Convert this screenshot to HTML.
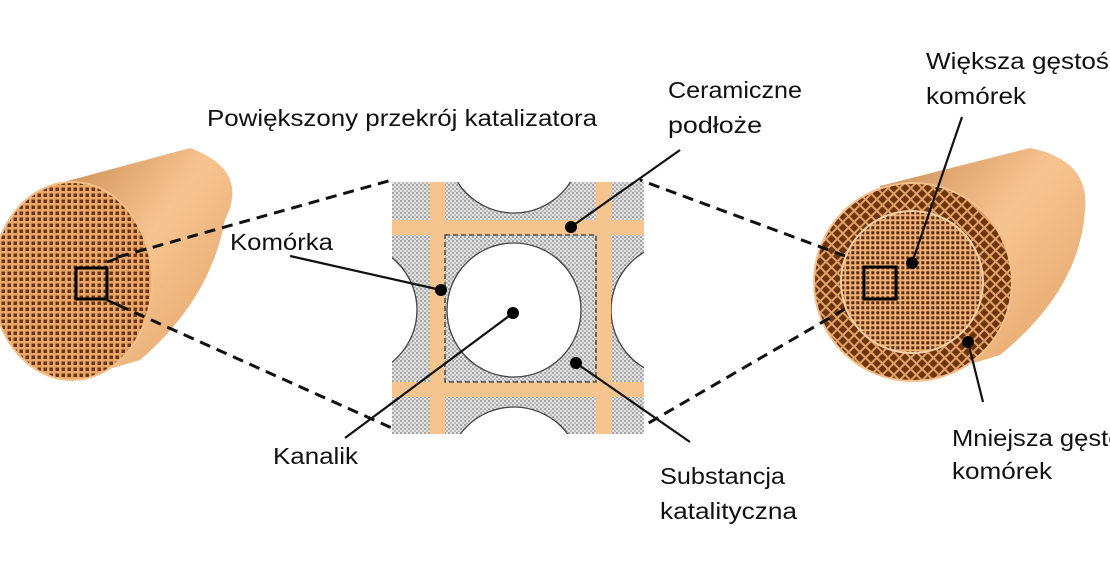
<!DOCTYPE html>
<html><head><meta charset="utf-8"><style>
html,body{margin:0;padding:0;background:#fff;width:1110px;height:577px;overflow:hidden}
svg text{font-family:"Liberation Sans","DejaVu Sans",sans-serif;font-size:23px;fill:#111}
</style></head><body>
<svg width="1110" height="577" viewBox="0 0 1110 577" xmlns="http://www.w3.org/2000/svg">
<defs>
<linearGradient id="body" x1="0" y1="0" x2="1" y2="1">
<stop offset="0" stop-color="#c98a52"/><stop offset="0.45" stop-color="#f7c491"/><stop offset="1" stop-color="#e0a064"/>
</linearGradient>
<pattern id="grid" width="6" height="6" patternUnits="userSpaceOnUse">
<rect width="6" height="6" fill="#e9a86a"/><rect x="1.5" y="1.5" width="3.5" height="3.5" fill="#6a3410"/>
</pattern>
<pattern id="grid2" width="5" height="5" patternUnits="userSpaceOnUse">
<rect width="5" height="5" fill="#f0b27a"/><rect x="1.3" y="1.3" width="3" height="3" fill="#5a2a0a"/>
</pattern>
<pattern id="diam" width="8" height="8" patternUnits="userSpaceOnUse" patternTransform="rotate(45)">
<rect width="8" height="8" fill="#e3a265"/><rect x="2" y="2" width="6" height="6" fill="#6b3510"/>
</pattern>
<pattern id="dots" width="4" height="4" patternUnits="userSpaceOnUse">
<rect width="4" height="4" fill="#e2e2e2"/><circle cx="1" cy="1" r="0.9" fill="#777"/><circle cx="3" cy="3" r="0.8" fill="#888"/>
</pattern>
</defs>

<path d="M60,183 L190,148 Q250,170 225,220 Q210,300 140,360 L72,380 Z" fill="url(#body)"/>
<ellipse cx="72" cy="281" rx="80" ry="99" fill="url(#grid)" stroke="#f3c08c" stroke-width="2"/>
<rect x="76" y="268" width="31" height="31" fill="none" stroke="#000" stroke-width="3"/>
<line x1="107" y1="262" x2="118" y2="258" stroke="#000" stroke-width="2.5"/>
<line x1="107" y1="300" x2="118" y2="305" stroke="#000" stroke-width="2.5"/>
<line x1="118" y1="257" x2="392" y2="180" stroke="#111" stroke-width="3" stroke-dasharray="11,7"/>
<line x1="118" y1="305" x2="392" y2="428" stroke="#111" stroke-width="3" stroke-dasharray="11,7"/>

<path d="M880,186 L1030,148 Q1090,160 1085,210 Q1080,290 1000,355 L915,381 Z" fill="url(#body)"/>
<ellipse cx="913" cy="282" rx="99" ry="99" fill="url(#diam)" stroke="#f3c08c" stroke-width="2"/>
<circle cx="912" cy="282" r="71" fill="url(#grid2)" stroke="#f6d0a4" stroke-width="2"/>
<rect x="864" y="267" width="32" height="32" fill="none" stroke="#000" stroke-width="3"/>
<line x1="845" y1="256" x2="640" y2="180" stroke="#111" stroke-width="3" stroke-dasharray="11,7"/>
<line x1="845" y1="309" x2="640" y2="428" stroke="#111" stroke-width="3" stroke-dasharray="11,7"/>

<g>
<clipPath id="cb"><rect x="392" y="182" width="252" height="252"/></clipPath>
<g clip-path="url(#cb)">
<rect x="392" y="182" width="252" height="252" fill="url(#dots)"/>
<g fill="#fff" stroke="#444" stroke-width="1.3">
<circle cx="514" cy="310" r="67"/>
<circle cx="514" cy="146" r="67"/>
<circle cx="514" cy="474" r="67"/>
<circle cx="350" cy="310" r="67"/>
<circle cx="678" cy="310" r="67"/>
</g>
<rect x="430" y="182" width="15" height="252" fill="#f6c48f"/>
<rect x="596" y="182" width="15" height="252" fill="#f6c48f"/>
<rect x="392" y="220" width="252" height="15" fill="#f6c48f"/>
<rect x="392" y="382" width="252" height="15" fill="#f6c48f"/>
<rect x="445" y="235" width="151" height="147" fill="none" stroke="#333" stroke-width="1.3" stroke-dasharray="5,3"/>
</g>
</g>

<g stroke="#111" stroke-width="2.2" fill="none">
<line x1="680" y1="150" x2="571" y2="227"/>
<line x1="290" y1="256" x2="441" y2="290"/>
<line x1="345" y1="438" x2="513" y2="313"/>
<line x1="690" y1="442" x2="576" y2="363"/>
<line x1="962" y1="117" x2="912" y2="263"/>
<line x1="983" y1="402" x2="968" y2="342"/>
</g>
<g fill="#000">
<circle cx="571" cy="227" r="6"/><circle cx="441" cy="290" r="6"/><circle cx="513" cy="313" r="6"/>
<circle cx="576" cy="363" r="6"/><circle cx="912" cy="263" r="6"/><circle cx="968" cy="342" r="6"/>
</g>

<text x="207" y="126" textLength="390" lengthAdjust="spacingAndGlyphs">Powiększony przekrój katalizatora</text>
<text x="668" y="98" textLength="134" lengthAdjust="spacingAndGlyphs">Ceramiczne</text>
<text x="668" y="133" textLength="94" lengthAdjust="spacingAndGlyphs">podłoże</text>
<text x="230" y="250" textLength="103" lengthAdjust="spacingAndGlyphs">Komórka</text>
<text x="273" y="464" textLength="85" lengthAdjust="spacingAndGlyphs">Kanalik</text>
<text x="660" y="484" textLength="125" lengthAdjust="spacingAndGlyphs">Substancja</text>
<text x="660" y="519" textLength="137" lengthAdjust="spacingAndGlyphs">katalityczna</text>
<text x="926" y="69" textLength="196" lengthAdjust="spacingAndGlyphs">Większa gęstość</text>
<text x="926" y="104" textLength="100" lengthAdjust="spacingAndGlyphs">komórek</text>
<text x="952" y="446" textLength="196" lengthAdjust="spacingAndGlyphs">Mniejsza gęstość</text>
<text x="952" y="479" textLength="100" lengthAdjust="spacingAndGlyphs">komórek</text>
</svg>
</body></html>
